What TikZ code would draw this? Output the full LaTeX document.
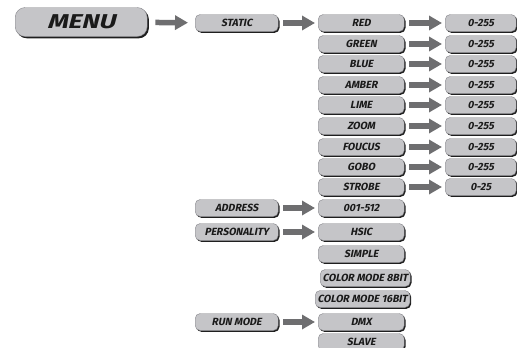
\documentclass[tikz,border=0pt]{standalone}
\usepackage{fontspec}
\newfontfamily\labfont{Fira Sans}[BoldFeatures={FakeSlant=0.2}]
\usetikzlibrary{arrows.meta,shadows}
\definecolor{boxgray}{HTML}{C5C5C8}
\definecolor{boxedge}{HTML}{85858A}
\definecolor{arrgray}{HTML}{6E6E70}
\definecolor{txt}{HTML}{1A1A1A}
\tikzset{
  lbl/.style={font={\labfont\bfseries\fontsize{10.4}{11}\selectfont}, text=txt},
  bx/.style={lbl, rounded corners=5pt, fill=boxgray, draw=boxedge, line width=0.4pt,
    minimum height=17pt, inner sep=0pt, anchor=west,
    drop shadow={shadow xshift=1.3pt, shadow yshift=-1.4pt, fill=black!88, opacity=1}},
  cA/.style={bx, minimum width=83pt},
  cB/.style={bx, minimum width=86pt},
  cC/.style={bx, minimum width=71pt},
  cM/.style={bx, inner xsep=2.5pt},
  arr/.style={draw=arrgray, line width=5.5pt, -{Triangle[width=14pt,length=13pt]},
    shorten <=5pt, shorten >=3pt},
}
\begin{document}
\begin{tikzpicture}[x=1pt,y=-1pt]
\useasboundingbox (0,0) rectangle (517,348);
% MENU
\node[bx, rounded corners=10pt, minimum width=132pt, minimum height=29pt,
  font={\labfont\bfseries\fontsize{20}{21}\selectfont},
  drop shadow={shadow xshift=1.6pt, shadow yshift=-1.8pt, fill=black!88, opacity=1}]
  (menu) at (15,22) {\scalebox{1.3}[1]{MENU}};
% column A
\node[cA] (static) at (195,23) {STATIC};
\node[cA] (address) at (195,208) {ADDRESS};
\node[cA] (pers) at (195,232) {PERSONALITY};
\node[cA] (run) at (195,322) {RUN MODE};
% column B
\node[cB] (red) at (318,23) {RED};
\node[cB] (green) at (318,44) {GREEN};
\node[cB] (blue) at (318,64) {BLUE};
\node[cB] (amber) at (318,85) {AMBER};
\node[cB] (lime) at (318,105) {LIME};
\node[cB] (zoom) at (318,126) {ZOOM};
\node[cB] (foucus) at (318,147) {FOUCUS};
\node[cB] (gobo) at (318,167) {GOBO};
\node[cB] (strobe) at (318,187) {STROBE};
\node[cB] (addr) at (318,208) {001-512};
\node[cB] (hsic) at (318,232) {HSIC};
\node[cB] (simple) at (318,254) {SIMPLE};
\node[cM] (cm8) at (320,278) {COLOR MODE 8BIT};
\node[cM] (cm16) at (315,299) {COLOR MODE 16BIT};
\node[cB] (dmx) at (318,322) {DMX};
\node[cB] (slave) at (318,342) {SLAVE};
% column C
\node[cC] (vred) at (445,23) {0-255};
\node[cC] (vgreen) at (445,44) {0-255};
\node[cC] (vblue) at (445,64) {0-255};
\node[cC] (vamber) at (445,85) {0-255};
\node[cC] (vlime) at (445,105) {0-255};
\node[cC] (vzoom) at (445,126) {0-255};
\node[cC] (vfoucus) at (445,147) {0-255};
\node[cC] (vgobo) at (445,167) {0-255};
\node[cC] (vstrobe) at (445,187) {0-25};
% arrows
\draw[arr, shorten <=8pt, shorten >=7pt] (menu) -- (static);
\draw[arr] (static) -- (red);
\draw[arr] (address) -- (addr);
\draw[arr] (pers) -- (hsic);
\draw[arr] (run) -- (dmx);
\foreach \a in {red,green,blue,amber,lime,zoom,foucus,gobo,strobe}
  \draw[arr] (\a) -- (v\a);
\end{tikzpicture}
\end{document}
